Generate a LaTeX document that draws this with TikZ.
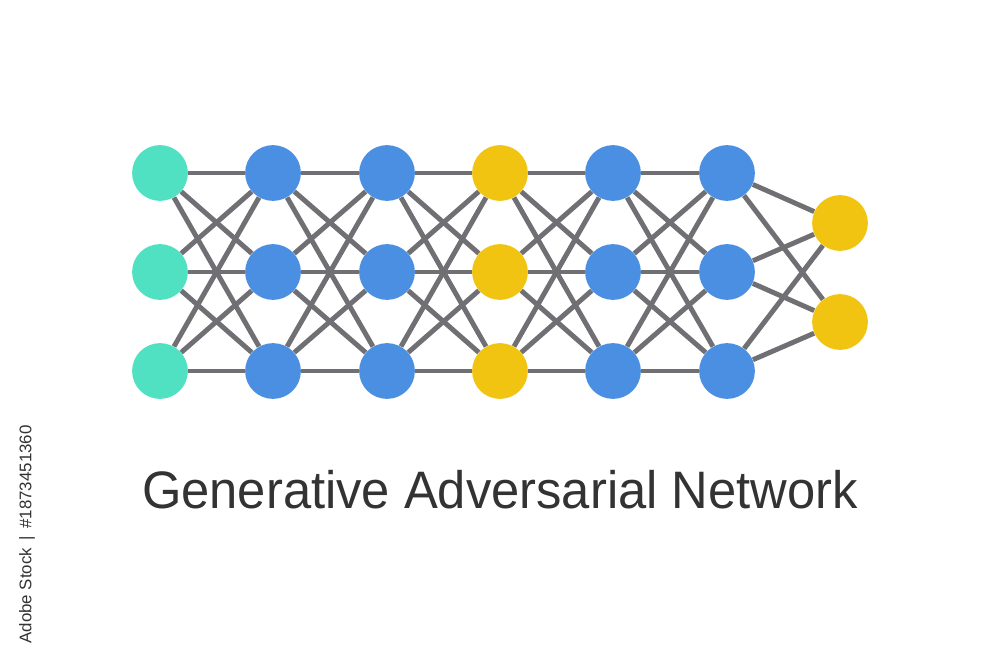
\documentclass[tikz,border=0pt]{standalone}
\usepackage{fontspec}
\setmainfont{Liberation Sans}
\usetikzlibrary{backgrounds}
\definecolor{gteal}{HTML}{50E0C2}
\definecolor{gblue}{HTML}{4A8FE2}
\definecolor{gyellow}{HTML}{F2C412}
\definecolor{gwire}{HTML}{707074}
\definecolor{gtext}{HTML}{333333}
\tikzset{
  unit/.style={circle, minimum size=56*0.5669pt, inner sep=0pt},
  wire/.style={gwire, line width=2.8pt}
}
\begin{document}
\begin{tikzpicture}[x=0.02cm, y=-0.02cm]
			\useasboundingbox (0,0) rectangle (1000,667);
			% layers of units
			\foreach \c/\x/\col in {1/160/gteal, 2/273/gblue, 3/387/gblue, 4/500/gyellow, 5/613/gblue, 6/727/gblue}
			  \foreach \r/\y in {1/173, 2/272, 3/371}
			    \node[unit, fill=\col] (n\c\r) at (\x,\y) {};
			\node[unit, fill=gyellow] (n71) at (840,223) {};
			\node[unit, fill=gyellow] (n72) at (840,322) {};
			% connections, behind the units
			\begin{scope}[on background layer]
			\fill[white] (0,0) rectangle (1000,667);
			\foreach \c [evaluate=\c as \d using int(\c+1)] in {1,...,5}
			  \foreach \a in {1,2,3}
			    \foreach \b in {1,2,3}
			      \draw[wire] (n\c\a) -- (n\d\b);
			\foreach \a in {1,2,3}
			  \foreach \b in {1,2}
			    \draw[wire] (n6\a) -- (n7\b);
			\end{scope}
			\node[anchor=base, text=gtext, xscale=0.962, font=\fontsize{30pt}{36pt}\selectfont] (title) at (500,508) {Generative Adversarial Network};
			\node[anchor=east, rotate=90, text=gtext, inner sep=0pt, font=\fontsize{9.6pt}{12pt}\selectfont] (stock) at (27,425) {Adobe Stock\,\ |\ \,\#1873451360};
		\end{tikzpicture}
\end{document}
